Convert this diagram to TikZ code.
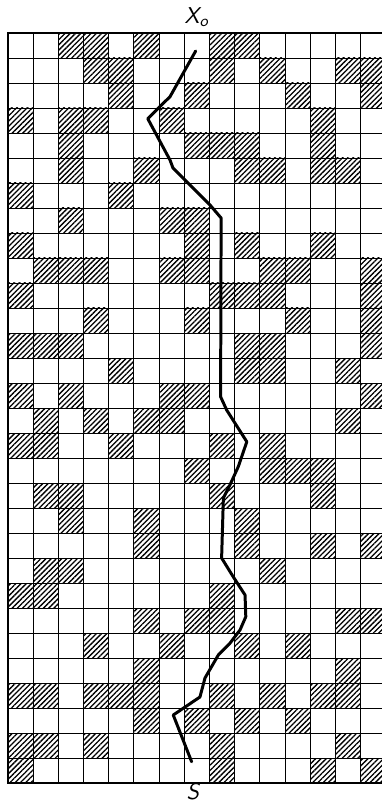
\documentclass[tikz,border=0pt]{standalone}
\usepackage{tikz}
\usetikzlibrary{patterns.meta}

\begin{document}
\begin{tikzpicture}[
  x=0.5038cm, y=-0.5cm,
  font=\sffamily\itshape\fontsize{13}{15}\selectfont,
  hatch/.style={pattern={Lines[angle=45, distance=2.1pt, line width=0.75pt]}},
  cellline/.style={line width=0.55pt},
  frame/.style={line width=1.3pt},
  walk/.style={line width=1.7pt, line join=round, line cap=round},
]
  \clip (-0.3176,-1.32) rectangle (14.847,30.8);

  % hatched cells, row by row
  \foreach \r/\cols in {0/{2,3,5,8,9}, 1/{3,4,8,10,13,14}, 2/{4,7,11,14},
      3/{0,2,3,6,12}, 4/{2,7,8,9,12}, 5/{2,5,9,10,12,13}, 6/{0,4},
      7/{2,6,7}, 8/{0,7,9,12}, 9/{1,2,3,6,7,10,11,14}, 10/{0,8,9,10,14},
      11/{3,7,11,14}, 12/{0,1,2,9,10,14}, 13/{4,9,10,13}, 14/{0,2,6,7,14},
      15/{1,3,5,6,13}, 16/{0,1,4,8,10}, 17/{7,10,11,12}, 18/{1,2,8,12},
      19/{2,5,9}, 20/{5,9,12,14}, 21/{1,2,10}, 22/{0,1,8},
      23/{5,7,8,13,14}, 24/{3,6,9,11}, 25/{5,13},
      26/{0,1,3,4,5,8,10,12,13}, 27/{5,7,9,11}, 28/{0,1,3,8,13},
      29/{0,8,12,14}}
    \foreach \c in \cols
      \fill[hatch] (\c,\r) rectangle ++(1,1);

  % grid
  \foreach \c in {1,...,14}
    \draw[cellline] (\c,0) -- (\c,30);
  \foreach \r in {1,...,29}
    \draw[cellline] (0,\r) -- (15,\r);
  \draw[frame] (15,0) -- (0,0) -- (0,30) -- (15,30);

  % labels
  \node (xo) at (7.49,-0.64) {X\textsubscript{o}};
  \node[inner sep=0pt] (s) at (7.34,30.33) {S};

  % path from X_o down to S
  \draw[walk] (7.45,0.72) -- (6.43,2.55) -- (5.97,3.0) -- (5.55,3.43)
    -- (6.43,5.08) -- (6.55,5.4) -- (7.11,5.96) -- (8.02,6.88)
    -- (8.46,7.4) -- (8.44,14.55) -- (8.68,15.08) -- (9.48,16.35)
    -- (9.14,17.35) -- (8.81,18.08) -- (8.55,18.6) -- (8.48,21.0)
    -- (8.94,21.75) -- (9.41,22.48) -- (9.44,23.35) -- (9.21,23.88)
    -- (8.81,24.41) -- (8.35,24.88) -- (7.82,25.8) -- (7.62,26.56)
    -- (6.56,27.28) -- (7.29,29.15);
\end{tikzpicture}
\end{document}
